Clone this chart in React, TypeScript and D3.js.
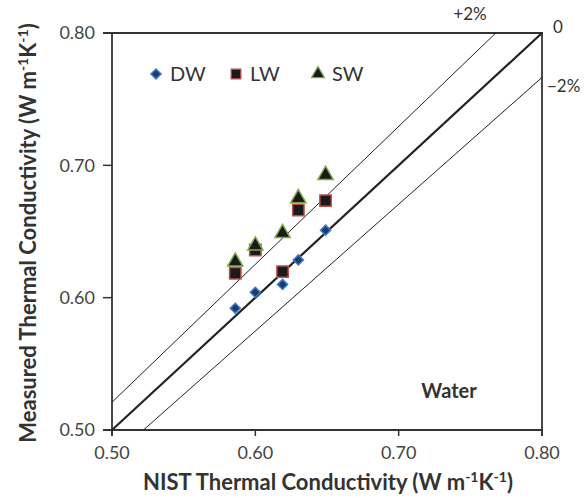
import React from "react";
import * as d3 from "d3";

const nistX = [0.586, 0.6, 0.619, 0.63, 0.649];
const dwValues = [0.592, 0.604, 0.61, 0.6285, 0.651];
const lwValues = [0.6184, 0.636, 0.6197, 0.6663, 0.6733];
const swValues = [0.6272, 0.6393, 0.6487, 0.6751, 0.6927];
const tickValues = [0.5, 0.6, 0.7, 0.8];
const bandFactors = [1.042, 1, 0.958];
const legendNames = ["DW", "LW", "SW"];

const FONT = "Lato, 'Open Sans', sans-serif";

export default function App() {
  const W = 585, H = 498;
  const x = d3.scaleLinear().domain([0.5, 0.8]).range([112, 542]);
  const y = d3.scaleLinear().domain([0.5, 0.8]).range([430, 33]);
  const line = d3.line<[number, number]>().x(d => x(d[0])).y(d => y(d[1]));

  const bandSegs = bandFactors.map(k => {
    let x0 = 0.5, x1 = 0.8;
    if (k * x0 < 0.5) x0 = 0.5 / k;
    if (k * x1 > 0.8) x1 = 0.8 / k;
    return { k, d: line([[x0, k * x0], [x1, k * x1]]) as string };
  });

  const diamond = d3.symbol().type(d3.symbolDiamond2).size(65)() as string;
  const square = d3.symbol().type(d3.symbolSquare).size(130)() as string;
  const tri = d3.symbol().type(d3.symbolTriangle).size(100)() as string;

  const styles = [
    { path: diamond, fill: "#1d3c6e", stroke: "#3d7cc9", sw: 1.5 },
    { path: square, fill: "#1a1a1a", stroke: "#c0504d", sw: 1.5 },
    { path: tri, fill: "#1a1a1a", stroke: "#7aa845", sw: 1.5 },
  ];
  const series = [dwValues, lwValues, swValues];
  const order = [1, 2, 0];

  const sup = (
    <>
      <tspan dy={-8} fontSize={14}>-1</tspan><tspan dy={8}>K</tspan><tspan dy={-8} fontSize={14}>-1</tspan><tspan dy={8}>)</tspan>
    </>
  );

  return (
    <svg width={W} height={H} style={{ position: "absolute", left: 0, top: 0 }}>
      <rect width={W} height={H} fill="#fff" />
      <line x1={103} x2={543} y1={y(0.8)} y2={y(0.8)} stroke="#333" strokeWidth={1.8} />
      <line x1={103} x2={543} y1={y(0.5)} y2={y(0.5)} stroke="#333" strokeWidth={1.8} />
      <line x1={x(0.5)} x2={x(0.5)} y1={y(0.8)} y2={436} stroke="#333" strokeWidth={1.8} />
      <line x1={x(0.8)} x2={x(0.8)} y1={y(0.8)} y2={436} stroke="#333" strokeWidth={1.8} />
      {tickValues.map(t => (
        <g key={"t" + t}>
          <line x1={103} x2={x(0.5)} y1={y(t)} y2={y(t)} stroke="#333" strokeWidth={1.5} />
          <line x1={x(t)} x2={x(t)} y1={y(0.5)} y2={436} stroke="#333" strokeWidth={1.5} />
          <text x={95} y={y(t)} dy="0.36em" textAnchor="end" fontFamily={FONT} fontSize={18} fill="#444">
            {t.toFixed(2)}
          </text>
          <text x={x(t)} y={459} textAnchor="middle" fontFamily={FONT} fontSize={18} fill="#444">
            {t.toFixed(2)}
          </text>
        </g>
      ))}
      {bandSegs.map(b => (
        <path key={"b" + b.k} d={b.d} stroke="#222" strokeWidth={b.k === 1 ? 2.2 : 1} fill="none" />
      ))}
      {order.map(si =>
        series[si].map((v, i) => (
          <path
            key={si + "-" + i}
            d={styles[si].path}
            transform={`translate(${x(nistX[i])},${y(v)})`}
            fill={styles[si].fill}
            stroke={styles[si].stroke}
            strokeWidth={styles[si].sw}
          />
        ))
      )}
      {legendNames.map((n, i) => {
        const lx = [156, 236, 318][i];
        return (
          <g key={n}>
            <path d={styles[i].path} transform={`translate(${lx},74) scale(${i === 0 ? 1 : 0.85})`}
              fill={styles[i].fill} stroke={styles[i].stroke} strokeWidth={styles[i].sw} />
            <text x={lx + 14} y={74} dy="0.36em" fontFamily={FONT} fontSize={20} fill="#333">{n}</text>
          </g>
        );
      })}
      <text x={470} y={14} dy="0.36em" textAnchor="middle" fontFamily={FONT} fontSize={17} fill="#333">+2%</text>
      <text x={553} y={27} dy="0.36em" textAnchor="start" fontFamily={FONT} fontSize={17} fill="#333">0</text>
      <text x={547} y={86} dy="0.36em" textAnchor="start" fontFamily={FONT} fontSize={17} fill="#333">−2%</text>
      <text x={449} y={391} dy="0.36em" textAnchor="middle" fontFamily={FONT} fontSize={20} fontWeight="bold" fill="#333">Water</text>
      <text x={328} y={490} textAnchor="middle" fontFamily={FONT} fontSize={22} fontWeight="bold" fill="#333">
        NIST Thermal Conductivity (W m{sup}
      </text>
      <text transform="translate(36,233) rotate(-90)" textAnchor="middle" fontFamily={FONT} fontSize={22} fontWeight="bold" fill="#333">
        Measured Thermal Conductivity (W m{sup}
      </text>
    </svg>
  );
}
